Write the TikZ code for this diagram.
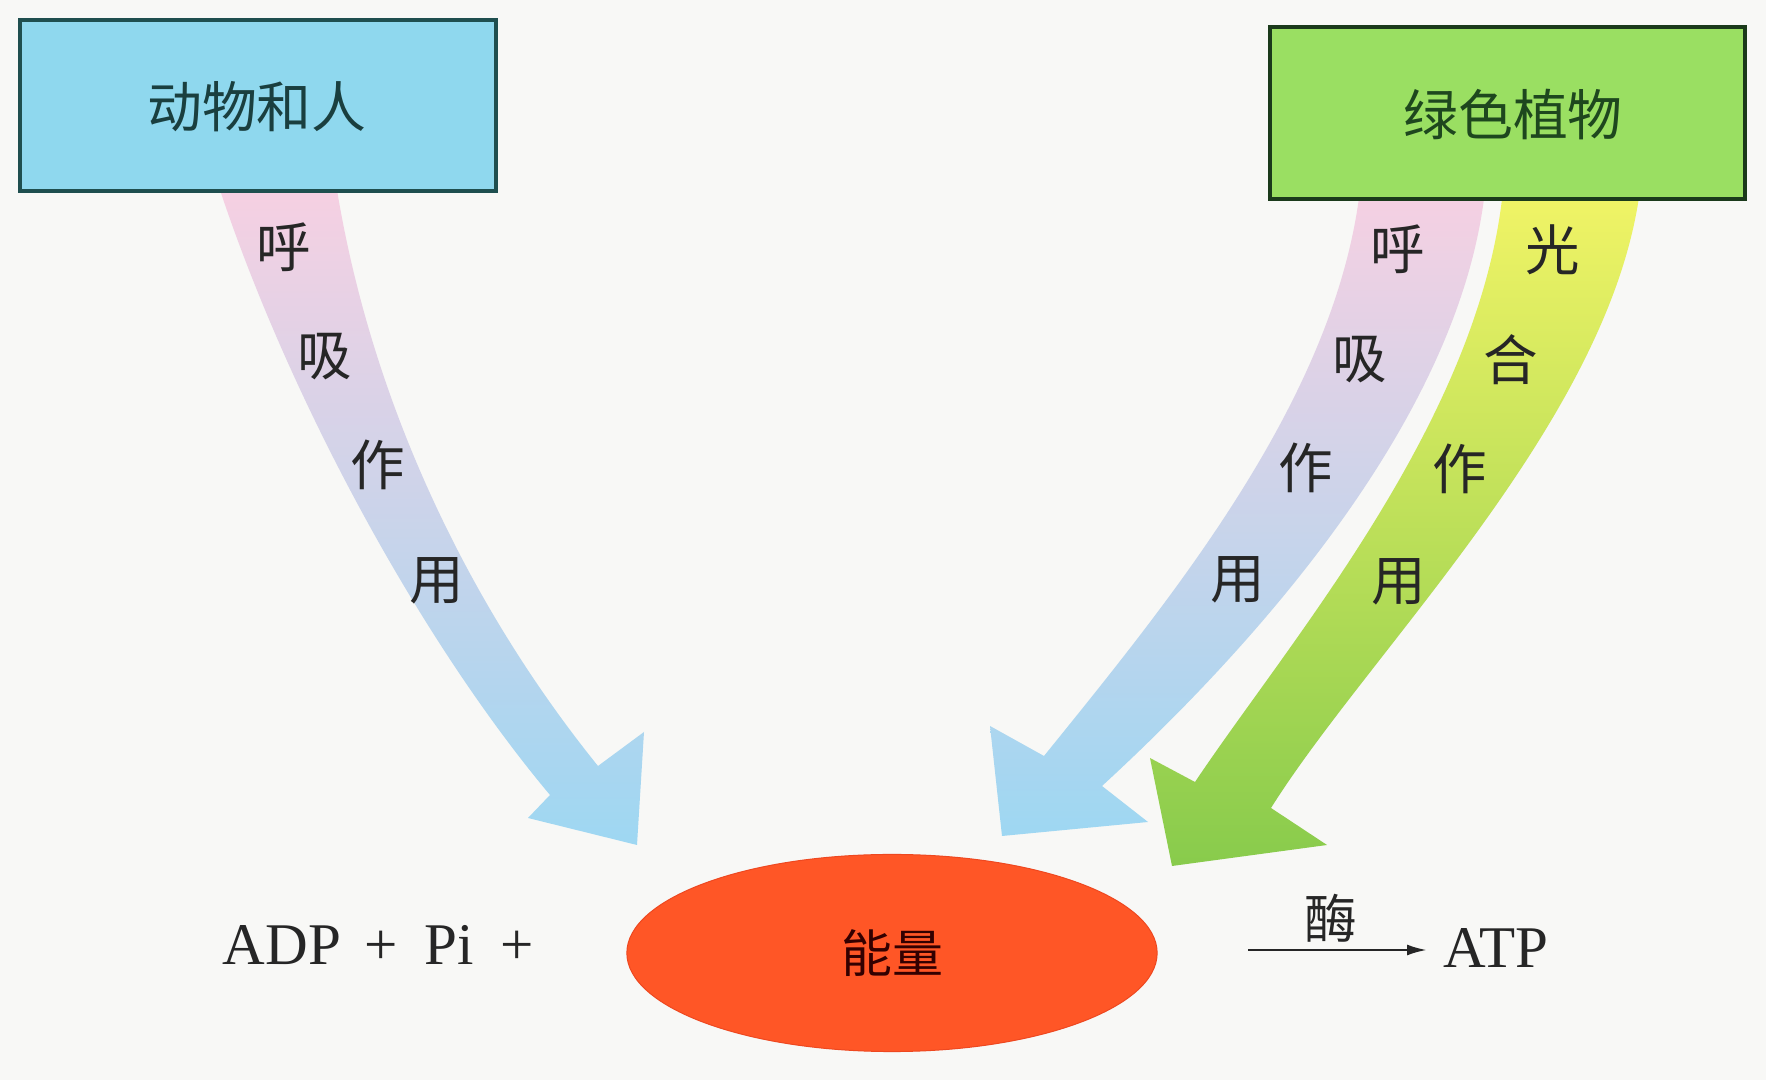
\documentclass[tikz,border=0pt]{standalone}
\usepackage{fontspec}
\setmainfont{Liberation Serif}
\newfontfamily\cjk{Noto Sans CJK SC}
\usetikzlibrary{arrows.meta,shapes.geometric}
\definecolor{bgc}{HTML}{F8F8F6}
\definecolor{pinkA}{HTML}{F6D0E2}
\definecolor{lavA}{HTML}{D9D5F0}
\definecolor{blueA}{HTML}{9ED7F2}
\definecolor{yelA}{HTML}{F1F466}
\definecolor{ygA}{HTML}{D6EC58}
\definecolor{grnA}{HTML}{88CB4C}
\definecolor{cyanbox}{HTML}{8FD8EE}
\definecolor{cyanline}{HTML}{1F4F4F}
\definecolor{cyantext}{HTML}{1A3F3F}
\definecolor{grnbox}{HTML}{9ADF62}
\definecolor{grnline}{HTML}{1B3A1B}
\definecolor{grntext}{HTML}{1E471E}
\definecolor{orangeE}{HTML}{FF5626}
\definecolor{orangeL}{HTML}{EE4820}
\begin{document}
\begin{tikzpicture}[x=0.01cm,y=-0.01cm,
  boxlabel/.style={font=\cjk\fontsize{15.6pt}{18pt}\selectfont, inner sep=0pt},
  bandchar/.style={font=\cjk\fontsize{15.5pt}{18pt}\selectfont, text=black!85, inner sep=0pt},
  eqtext/.style={font=\fontsize{16.8pt}{20pt}\selectfont, text=black!85, inner sep=0pt},
  respband/.style={top color=pinkA, middle color=lavA, bottom color=blueA},
  photoband/.style={top color=yelA, middle color=ygA, bottom color=grnA},
  srcbox/.style={rectangle, line width=0.045cm, inner sep=0pt}
]
\fill[bgc] (0,0) rectangle (1766,1080);
\useasboundingbox (0,0) rectangle (1766,1080);

% left respiration arrow (animals and humans)
\path[respband] (220,190) .. controls (290,400) and (420,640) .. (550,795)
  -- (528,818) -- (637,845) -- (644,732) -- (598,766)
  .. controls (480,620) and (375,420) .. (337,190) -- cycle;

% right respiration arrow (green plants)
\path[respband] (1360,190) .. controls (1335,400) and (1170,600) .. (1044,756)
  -- (990,726) -- (1002,836) -- (1148,822) -- (1102,786)
  .. controls (1250,650) and (1460,420) .. (1485,190) -- cycle;

% photosynthesis arrow
\path[photoband] (1503,190) .. controls (1480,420) and (1290,640) .. (1195,782)
  -- (1150,758) -- (1172,866) -- (1327,845) -- (1271,808)
  .. controls (1370,650) and (1610,420) .. (1640,190) -- cycle;

% source boxes
\node[srcbox, draw=cyanline, fill=cyanbox, minimum width=4.76cm, minimum height=1.71cm] (animals) at (258,105.5) {};
\node[boxlabel, text=cyantext] (animalslbl) at (257,107) {动物和人};
\node[srcbox, draw=grnline, fill=grnbox, minimum width=4.75cm, minimum height=1.72cm] (plants) at (1507.5,113) {};
\node[boxlabel, text=grntext] (plantslbl) at (1513,115) {绿色植物};

% band labels
\node[bandchar] (la1) at (284,247) {呼};
\node[bandchar] (la2) at (325,357) {吸};
\node[bandchar] (la3) at (378,465) {作};
\node[bandchar] (la4) at (437,581) {用};

\node[bandchar] (ra1) at (1398,249) {呼};
\node[bandchar] (ra2) at (1360,360) {吸};
\node[bandchar] (ra3) at (1306,468) {作};
\node[bandchar] (ra4) at (1238,580) {用};

\node[bandchar] (pa1) at (1553,250) {光};
\node[bandchar] (pa2) at (1511,360) {合};
\node[bandchar] (pa3) at (1460,469) {作};
\node[bandchar] (pa4) at (1399,582) {用};

% energy ellipse
\node[ellipse, draw=orangeL, line width=0.01cm, fill=orangeE, minimum width=5.3cm, minimum height=1.97cm, inner sep=0pt,
      font=\cjk\fontsize{14.5pt}{17pt}\selectfont, text=black!80!red] (energy) at (892,953) {能量};

% equation
\node[eqtext, anchor=base west] (adp) at (222,965) {ADP\hspace{0.4em}+\hspace{0.45em}Pi\hspace{0.45em}+};
\node[eqtext, anchor=base west] (atp) at (1443,968) {ATP};
\coordinate (enzstart) at (1248,950);
\coordinate (enzend) at (1427,950);
\draw[line width=0.025cm, black!85, -{Latex[length=0.2cm,width=0.11cm]}] (enzstart) -- (enzend);
\node[font=\cjk\fontsize{15pt}{18pt}\selectfont, text=black!85, inner sep=0pt] (enzyme) at (1331,918) {酶};
\end{tikzpicture}
\end{document}
